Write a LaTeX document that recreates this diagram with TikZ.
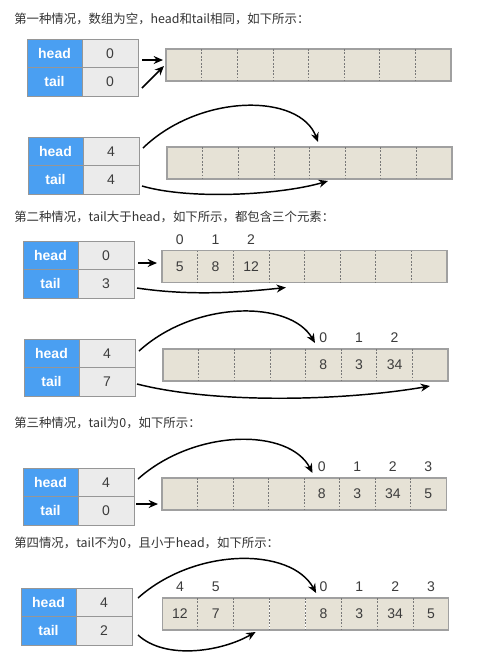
\documentclass[tikz,border=0pt]{standalone}
\usepackage{fontspec}
\setmainfont{Liberation Sans}
\newfontfamily\cjkfont{Noto Sans CJK SC}
\usepackage{tikz}
\usetikzlibrary{positioning,arrows.meta}
\usepackage{xcolor}
\definecolor{lblblue}{RGB}{74,159,242}
\definecolor{valgray}{RGB}{235,235,235}
\definecolor{tblborder}{RGB}{150,150,150}
\definecolor{arrfill}{RGB}{230,226,214}
\definecolor{arrborder}{RGB}{160,160,160}
\definecolor{divgray}{RGB}{120,120,120}
\definecolor{numgray}{RGB}{60,60,60}
\definecolor{titlegray}{RGB}{51,51,51}

\begin{document}
\begin{tikzpicture}[
    x=0.75pt, y=-0.75pt,
    lbl/.style={rectangle, draw=tblborder, fill=lblblue, minimum width=41.25pt, minimum height=21.375pt, inner sep=0pt, outer sep=0pt, text=white, font=\bfseries\fontsize{10.5}{12}\selectfont},
    val/.style={rectangle, draw=tblborder, fill=valgray, minimum width=42pt, minimum height=21.375pt, inner sep=0pt, outer sep=0pt, text=numgray, font=\fontsize{10.5}{12}\selectfont},
    cell/.style={rectangle, fill=arrfill, minimum width=26.72pt, minimum height=24pt, inner sep=0pt, outer sep=0pt, text=numgray, font=\fontsize{10.5}{12}\selectfont},
    arrbox/.style={draw=arrborder, line width=0.8pt},
    divider/.style={draw=divgray, line width=0.5pt, dash pattern=on 1.3pt off 1.3pt},
    idx/.style={inner sep=1pt, text=numgray, font=\fontsize{10.5}{12}\selectfont},
    caption/.style={anchor=west, inner sep=0pt, text=titlegray, font=\cjkfont\fontsize{9.3}{11}\selectfont},
    arrow/.style={-{Stealth[length=7pt,width=6pt]}, line width=1.1pt}
]
\useasboundingbox[fill=white] (0,0) rectangle (479,662);

% Case 1: empty
\node[caption] (t1) at (14,19) {第一种情况，数组为空，head和tail相同，如下所示：};
\node[lbl] (l1h) at (54.5,53.25) {head};
\node[val, right=0pt of l1h] (v1h) {0};
\node[lbl, below=0pt of l1h] (l1t) {tail};
\node[val, right=0pt of l1t] (v1t) {0};
\foreach \i in {0,...,7}
    \node[cell] (c1-\i) at ({183.8+35.625*\i},65) {};
\draw[arrbox] (c1-0.north west) rectangle (c1-7.south east);
\foreach \i in {0,...,6}
    \draw[divider] (c1-\i.north east) -- (c1-\i.south east);
\draw[arrow] ([shift={(4,6.75)}]v1h.east) -- ([shift={(-3,-5)}]c1-0.west);
\draw[arrow] ([shift={(4,6.25)}]v1t.east) -- ([shift={(-2,1)}]c1-0.west);

% Case 1b: head = tail = 4
\node[lbl] (l2h) at (55.5,151.25) {head};
\node[val, right=0pt of l2h] (v2h) {4};
\node[lbl, below=0pt of l2h] (l2t) {tail};
\node[val, right=0pt of l2t] (v2t) {4};
\foreach \i in {0,...,7}
    \node[cell] (c2-\i) at ({184.8+35.625*\i},163) {};
\draw[arrbox] (c2-0.north west) rectangle (c2-7.south east);
\foreach \i in {0,...,6}
    \draw[divider] (c2-\i.north east) -- (c2-\i.south east);
\draw[arrow] ([shift={(4,-3.25)}]v2h.east) .. controls +(57,-55) and +(-18,-49) .. ([shift={(8.5,-5)}]c2-4.north west);
\draw[arrow] ([shift={(3,6.25)}]v2t.east) .. controls +(48,14) and +(-48,14) .. ([shift={(18.5,2)}]c2-4.south west);

% Case 2: tail > head
\node[caption] (t3) at (14,217) {第二种情况，tail大于head，如下所示，都包含三个元素：};
\node[lbl] (l3h) at (50.5,255.25) {head};
\node[val, right=0pt of l3h] (v3h) {0};
\node[lbl, below=0pt of l3h] (l3t) {tail};
\node[val, right=0pt of l3t] (v3t) {3};
\foreach \v [count=\i from 0] in {5,8,12,{},{},{},{},{}}
    \node[cell] (c3-\i) at ({179.8+35.625*\i},266.5) {\v};
\draw[arrbox] (c3-0.north west) rectangle (c3-7.south east);
\foreach \i in {0,...,6}
    \draw[divider] (c3-\i.north east) -- (c3-\i.south east);
\foreach \n [count=\i from 0] in {0,1,2}
    \node[idx, above=3.5pt of c3-\i] (i3-\i) {\n};
\draw[arrow] ([shift={(4,7.75)}]v3h.east) -- ([shift={(-5,-3.5)}]c3-0.west);
\draw[arrow] ([shift={(3,4.25)}]v3t.east) .. controls +(53,8) and +(-46,5) .. ([shift={(17,5)}]c3-3.south west);

% Case 2b
\node[lbl] (l4h) at (51.5,353.25) {head};
\node[val, right=0pt of l4h] (v4h) {4};
\node[lbl, below=0pt of l4h] (l4t) {tail};
\node[val, right=0pt of l4t] (v4t) {7};
\foreach \v [count=\i from 0] in {{},{},{},{},8,3,34,{}}
    \node[cell] (c4-\i) at ({180.8+35.625*\i},365) {\v};
\draw[arrbox] (c4-0.north west) rectangle (c4-7.south east);
\foreach \i in {0,...,6}
    \draw[divider] (c4-\i.north east) -- (c4-\i.south east);
\foreach \n [count=\i from 4] in {0,1,2}
    \node[idx, above=3.5pt of c4-\i] (i4-\i) {\n};
\draw[arrow] ([shift={(4,-2.25)}]v4h.east) .. controls +(56,-51) and +(-25,-43) .. ([shift={(9.5,-6)}]c4-4.north west);
\draw[arrow] ([shift={(2,2.25)}]v4t.east) .. controls +(83,21) and +(-80,14) .. ([shift={(17.6,5)}]c4-7.south west);

% Case 3: tail = 0
\node[caption] (t5) at (14,423) {第三种情况，tail为0，如下所示：};
\node[lbl] (l5h) at (50.5,482.25) {head};
\node[val, right=0pt of l5h] (v5h) {4};
\node[lbl, below=0pt of l5h] (l5t) {tail};
\node[val, right=0pt of l5t] (v5t) {0};
\foreach \v [count=\i from 0] in {{},{},{},{},8,3,34,5}
    \node[cell] (c5-\i) at ({179.8+35.5*\i},494) {\v};
\draw[arrbox] (c5-0.north west) rectangle (c5-7.south east);
\foreach \i in {0,...,6}
    \draw[divider] (c5-\i.north east) -- (c5-\i.south east);
\foreach \n [count=\i from 4] in {0,1,2,3}
    \node[idx, above=3.5pt of c5-\i] (i5-\i) {\n};
\draw[arrow] ([shift={(4,-3.25)}]v5h.east) .. controls +(57,-51) and +(-23,-45) .. ([shift={(8.5,-5)}]c5-4.north west);
\draw[arrow] ([shift={(2,-6.75)}]v5t.east) -- ([shift={(-4,10)}]c5-0.west);

% Case 4: 0 < tail < head
\node[caption] (t6) at (14,543) {第四情况，tail不为0，且小于head，如下所示：};
\node[lbl] (l6h) at (48.5,602.25) {head};
\node[val, right=0pt of l6h] (v6h) {4};
\node[lbl, below=0pt of l6h] (l6t) {tail};
\node[val, right=0pt of l6t] (v6t) {2};
\foreach \v [count=\i from 0] in {12,7,{},{},8,3,34,5}
    \node[cell] (c6-\i) at ({179.9+35.875*\i},614) {\v};
\draw[arrbox] (c6-0.north west) rectangle (c6-7.south east);
\foreach \i in {0,...,6}
    \draw[divider] (c6-\i.north east) -- (c6-\i.south east);
\foreach \n [count=\i from 0] in {4,5}
    \node[idx, above=3.5pt of c6-\i] (i6-\i) {\n};
\foreach \n [count=\i from 4] in {0,1,2,3}
    \node[idx, above=3.5pt of c6-\i] (i6-\i) {\n};
\draw[arrow] ([shift={(6,-4.25)}]v6h.east) .. controls +(57,-51) and +(-25,-46) .. ([shift={(10.5,-5)}]c6-4.north west);
\draw[arrow] ([shift={(6,4.25)}]v6t.east) .. controls +(27,25) and +(-35,20) .. ([shift={(21.75,2)}]c6-2.south west);

\end{tikzpicture}
\end{document}
